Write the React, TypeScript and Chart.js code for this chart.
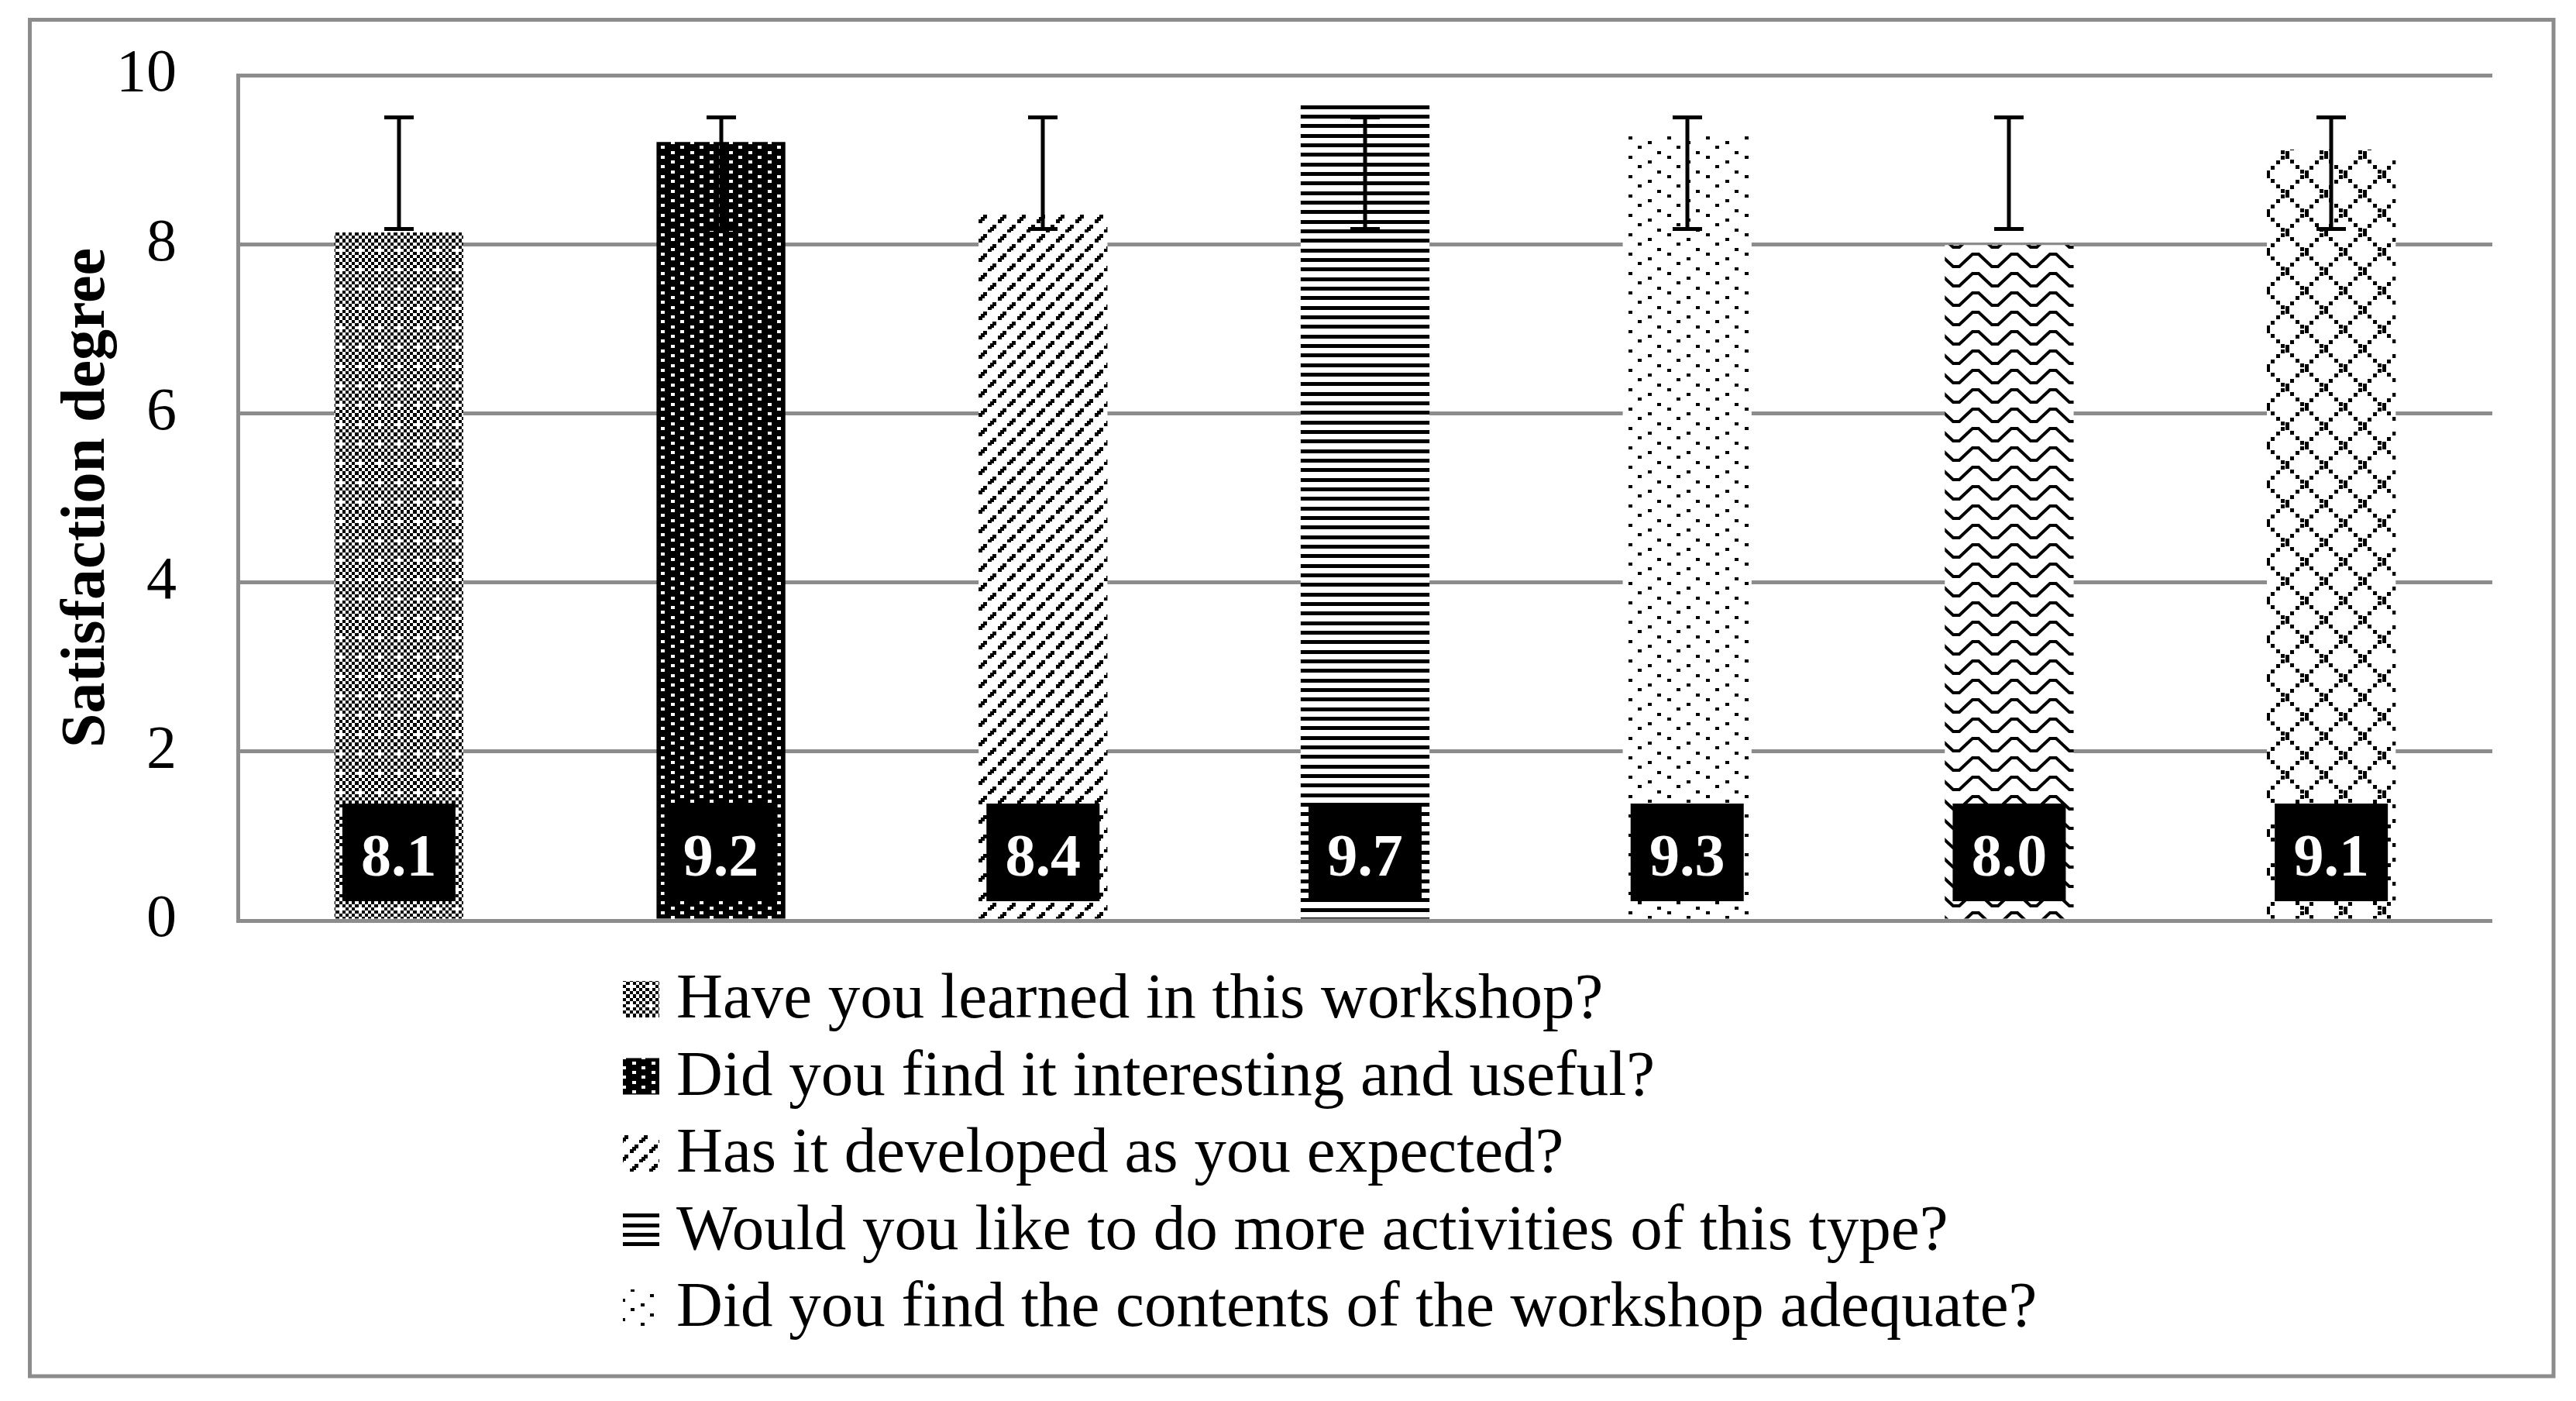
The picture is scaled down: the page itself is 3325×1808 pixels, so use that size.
import React, { useEffect, useRef } from 'react';
import { Chart, registerables } from 'chart.js';

Chart.register(...registerables);

// ---------------- data ----------------
const questions = [
  'Have you learned in this workshop?',
  'Did you find it interesting and useful?',
  'Has it developed as you expected?',
  'Would you like to do more activities of this type?',
  'Did you find the contents of the workshop adequate?',
  'Question 6',
  'Question 7',
];
const satisfaction = [8.14, 9.21, 8.36, 9.67, 9.29, 7.99, 9.12];
const errorLow = [8.18, 8.18, 8.18, 8.18, 8.18, 8.18, 8.18];
const errorHigh = [9.5, 9.5, 9.5, 9.5, 9.5, 9.5, 9.5];
const yTicks = [0, 2, 4, 6, 8, 10];
const legendCount = 5;
const patternKinds = ['checker', 'whiteDots', 'dashedDiag', 'hStripes', 'sparseDots', 'zigzag', 'diamond'];

// ---------------- styles ----------------
const W = 3325;
const H = 1808;
const SERIF = "'Liberation Serif', 'Times New Roman', serif";
const GRID = '#8c8c8c';

function tile(w: number, h: number, bg: string, draw: (g: CanvasRenderingContext2D) => void) {
  const c = document.createElement('canvas');
  c.width = w;
  c.height = h;
  const g = c.getContext('2d') as CanvasRenderingContext2D;
  g.fillStyle = bg;
  g.fillRect(0, 0, w, h);
  g.fillStyle = '#000';
  g.strokeStyle = '#000';
  draw(g);
  return c;
}

function buildTile(kind: string) {
  switch (kind) {
    case 'checker':
      return tile(25, 25, '#fff', (g) => {
        const b = (i: number) => Math.round((i * 25) / 6);
        for (let r = 0; r < 6; r++) {
          for (let c = 0; c < 6; c++) {
            if ((r + c) % 2 !== 0) continue;
            if (r === 5 && c === 3) continue;
            g.fillRect(b(c), b(r), b(c + 1) - b(c), b(r + 1) - b(r));
          }
        }
      });
    case 'whiteDots':
      return tile(25, 25, '#000', (g) => {
        g.fillStyle = '#fff';
        [[3, 1], [16, 7], [3, 13], [16, 20]].forEach(([x, y]) => g.fillRect(x, y, 5, 4));
      });
    case 'dashedDiag':
      return tile(25, 25, '#fff', (g) => {
        const s = 25 / 8;
        [0, 1, 2, 4, 5, 6].forEach((k) => {
          g.fillRect(Math.round(k * s), Math.round(25 - (k + 1) * s) - 1, 5, 5);
        });
      });
    case 'hStripes':
      return tile(25, 37, '#fff', (g) => {
        g.fillRect(0, 0, 25, 5);
        g.fillRect(0, 12, 25, 5);
        g.fillRect(0, 25, 25, 5);
      });
    case 'sparseDots':
      return tile(50, 25, '#fff', (g) => {
        [[2, 1], [27, 7], [14, 13], [39, 20]].forEach(([x, y]) => g.fillRect(x, y, 5, 4));
      });
    case 'zigzag':
      return tile(50, 25, '#fff', (g) => {
        g.lineWidth = 4;
        g.lineJoin = 'miter';
        g.beginPath();
        g.moveTo(-6, 3);
        g.lineTo(4, 3);
        g.lineTo(21, 19);
        g.lineTo(29, 19);
        g.lineTo(46, 3);
        g.lineTo(56, 3);
        g.stroke();
      });
    case 'diamond':
    default:
      return tile(50, 50, '#fff', (g) => {
        const s = 6.25;
        for (let k = 0; k < 8; k++) {
          const p = Math.round(k * s);
          g.fillRect(p, p, 5, 5);
          g.fillRect(p, 45 - p, 5, 5);
        }
      });
  }
}

export default function App() {
  const ref = useRef<HTMLCanvasElement>(null);

  useEffect(() => {
    const canvas = ref.current;
    if (!canvas) return;
    const ctx0 = canvas.getContext('2d') as CanvasRenderingContext2D;
    const patterns = patternKinds.map((k) => ctx0.createPattern(buildTile(k), 'repeat') as CanvasPattern);

    const framePlugin = {
      id: 'frame',
      beforeDraw(chart: any) {
        const { ctx } = chart;
        ctx.save();
        ctx.fillStyle = '#fff';
        ctx.fillRect(0, 0, W, H);
        ctx.strokeStyle = GRID;
        ctx.lineWidth = 5;
        ctx.strokeRect(38.5, 25.5, 3296 - 38.5, 1776 - 25.5);
        ctx.restore();
      },
    };

    const errorBarPlugin = {
      id: 'errorBars',
      afterDatasetsDraw(chart: any) {
        const { ctx } = chart;
        const y = chart.scales.y;
        const meta = chart.getDatasetMeta(0);
        ctx.save();
        ctx.strokeStyle = '#000';
        ctx.lineWidth = 5;
        ctx.lineCap = 'butt';
        meta.data.forEach((bar: any, i: number) => {
          const x = Math.round(bar.x);
          const yh = y.getPixelForValue(errorHigh[i]);
          const yl = y.getPixelForValue(errorLow[i]);
          ctx.beginPath();
          ctx.moveTo(x, yh);
          ctx.lineTo(x, yl);
          ctx.moveTo(x - 19, yh);
          ctx.lineTo(x + 19, yh);
          ctx.moveTo(x - 19, yl);
          ctx.lineTo(x + 19, yl);
          ctx.stroke();
        });
        ctx.restore();
      },
    };

    const valueLabelPlugin = {
      id: 'valueLabels',
      afterDatasetsDraw(chart: any) {
        const { ctx } = chart;
        const y = chart.scales.y;
        const base = y.getPixelForValue(0);
        const meta = chart.getDatasetMeta(0);
        ctx.save();
        meta.data.forEach((bar: any, i: number) => {
          const bw = 146;
          const bh = 126;
          const bx = bar.x - bw / 2;
          const by = base - 25 - bh;
          ctx.fillStyle = '#000';
          ctx.fillRect(bx, by, bw, bh);
          ctx.fillStyle = '#fff';
          ctx.font = `bold 78px ${SERIF}`;
          ctx.textAlign = 'center';
          ctx.textBaseline = 'alphabetic';
          ctx.fillText(satisfaction[i].toFixed(1), bar.x, base - 58);
        });
        ctx.restore();
      },
    };

    const legendPlugin = {
      id: 'questionLegend',
      afterDraw(chart: any) {
        const { ctx } = chart;
        ctx.save();
        ctx.font = `83px ${SERIF}`;
        ctx.textAlign = 'left';
        ctx.textBaseline = 'alphabetic';
        for (let i = 0; i < legendCount; i++) {
          const baseY = 1313 + i * 99.5;
          ctx.fillStyle = patterns[i];
          ctx.fillRect(804, baseY - 47, 47, 47);
          ctx.fillStyle = '#000';
          ctx.fillText(questions[i], 873, baseY);
        }
        ctx.restore();
      },
    };

    const chart = new Chart(canvas, {
      type: 'bar',
      data: {
        labels: questions,
        datasets: [
          {
            data: satisfaction,
            backgroundColor: patterns as any,
            borderWidth: 0,
            barPercentage: 0.4,
            categoryPercentage: 1,
          },
        ],
      },
      options: {
        responsive: false,
        animation: false,
        devicePixelRatio: 1,
        layout: { padding: { left: 0, top: 97, right: 108, bottom: 620 } },
        plugins: {
          legend: { display: false },
          tooltip: { enabled: false },
        },
        scales: {
          x: { display: false },
          y: {
            min: 0,
            max: 10,
            afterBuildTicks: (s: any) => {
              s.ticks = yTicks.map((v) => ({ value: v }));
            },
            afterFit: (s: any) => {
              s.width = 307;
            },
            grid: { color: GRID, lineWidth: 5, drawTicks: false },
            border: { display: true, color: GRID, width: 5 },
            ticks: {
              font: { family: SERIF, size: 78, lineHeight: 0.2 },
              color: '#000',
              padding: 79,
            },
            title: {
              display: true,
              text: 'Satisfaction degree',
              color: '#000',
              font: { family: SERIF, size: 80, weight: 'bold', lineHeight: 1.2 },
              padding: { top: 65, bottom: 0 },
            },
          },
        },
      } as any,
      plugins: [framePlugin, errorBarPlugin, valueLabelPlugin, legendPlugin],
    });

    return () => chart.destroy();
  }, []);

  return (
    <div style={{ position: 'absolute', left: 0, top: 0, width: W, height: H, background: '#fff' }}>
      <canvas ref={ref} width={W} height={H} style={{ display: 'block', width: W, height: H }} />
    </div>
  );
}
